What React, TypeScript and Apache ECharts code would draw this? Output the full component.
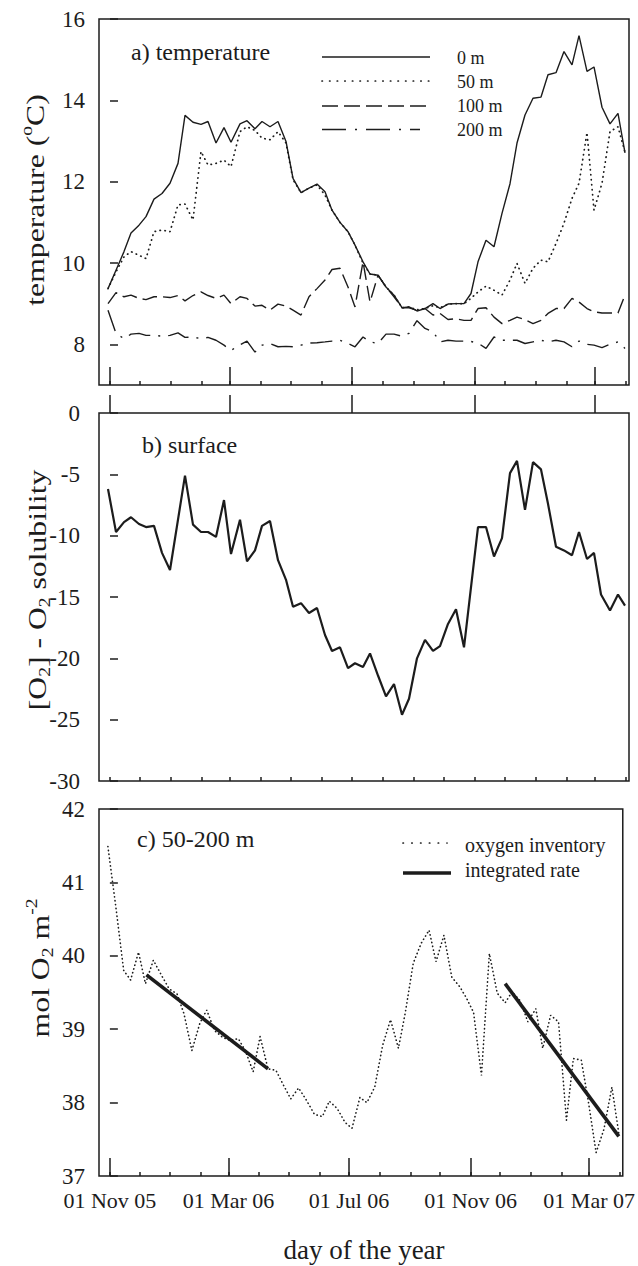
import React, { useEffect, useRef } from "react";
import * as echarts from "echarts";

// Sampling days, counted from 01 Nov 2005
const sampleDays = [
  -2, 6, 14, 21, 29, 36, 44, 52, 60, 68, 75, 83, 91, 98, 106, 114, 121, 130, 137, 145,
  152, 160, 168, 176, 183, 191, 199, 207, 215, 222, 230, 238, 245, 253, 260, 268, 276, 284, 292, 299,
  307, 315, 323, 330, 338, 346, 354, 361, 368, 376, 384, 392, 400, 407, 415, 423, 431, 438, 446, 454,
  462, 469, 477, 484, 492, 500, 508, 515,
];

// Temperature (°C) at four depths
const temp0m = [
  9.37, 9.82, 10.28, 10.74, 10.93, 11.14, 11.57, 11.71, 11.96, 12.45, 13.63, 13.46, 13.41, 13.48, 12.95, 13.33, 12.97, 13.42, 13.5, 13.3,
  13.48, 13.35, 13.48, 12.99, 12.08, 11.73, 11.84, 11.94, 11.75, 11.3, 11.0, 10.77, 10.44, 10.03, 9.73, 9.7, 9.41, 9.21, 8.9, 8.92,
  8.82, 8.88, 9.0, 8.88, 8.99, 9.0, 9.0, 9.25, 10.03, 10.56, 10.4, 11.22, 11.95, 12.95, 13.64, 14.05, 14.08, 14.63, 14.68, 15.2,
  14.87, 15.59, 14.71, 14.82, 13.83, 13.42, 13.68, 12.71,
];
const temp50m = [
  9.37, 9.78, 10.15, 10.28, 10.19, 10.11, 10.77, 10.81, 10.77, 11.43, 11.45, 11.06, 12.74, 12.41, 12.45, 12.53, 12.37, 13.23, 13.35, 13.26,
  13.07, 13.03, 13.23, 12.95, 12.05, 11.73, 11.84, 11.92, 11.67, 11.3, 11.0, 10.77, 10.44, 10.0, 9.73, 9.7, 9.41, 9.21, 8.9, 8.92,
  8.85, 8.88, 8.95, 8.9, 8.99, 9.0, 9.0, 9.13, 9.29, 9.43, 9.33, 9.21, 9.58, 9.99, 9.5, 9.87, 10.07, 10.03, 10.48, 10.98,
  11.59, 11.96, 13.21, 11.3, 11.96, 13.23, 13.35, 12.72,
];
const temp100m = [
  9.0, 9.27, 9.17, 9.21, 9.13, 9.1, 9.17, 9.17, 9.15, 9.2, 9.07, 9.2, 9.29, 9.2, 9.13, 9.21, 9.0, 9.17, 9.13, 8.94,
  8.96, 8.84, 8.99, 8.94, 8.84, 8.72, 9.17, 9.37, 9.58, 9.84, 9.87, 9.41, 8.92, 10.03, 9.04, 9.7, 9.41, 9.17, 8.9, 8.9,
  8.84, 8.88, 8.72, 8.76, 8.61, 8.63, 8.59, 8.59, 8.88, 8.9, 8.67, 8.51, 8.59, 8.67, 8.61, 8.51, 8.59, 8.76, 8.88, 8.88,
  9.13, 9.04, 8.88, 8.8, 8.77, 8.77, 8.77, 9.21,
];
const temp200m = [
  8.84, 8.27, 8.14, 8.25, 8.27, 8.22, 8.22, 8.2, 8.22, 8.28, 8.17, 8.18, 8.14, 8.17, 8.1, 7.98, 7.85, 7.99, 8.08, 7.81,
  7.98, 8.02, 7.94, 7.95, 7.94, 7.98, 8.03, 8.04, 8.06, 8.08, 8.1, 8.02, 7.94, 8.18, 8.06, 8.02, 8.25, 8.25, 8.2, 8.27,
  8.58, 8.39, 8.31, 8.06, 8.1, 8.08, 8.08, 8.07, 8.03, 7.9, 8.18, 8.1, 8.1, 8.1, 8.02, 8.06, 8.1, 8.06, 8.1, 8.06,
  7.94, 8.08, 8.0, 7.98, 7.92, 8.0, 8.06, 7.9,
];

// Surface [O2] minus O2 solubility
const surfaceDays = [
  -2, 6, 14, 21, 29, 36, 44, 52, 60, 75, 83, 91, 98, 106, 114, 121, 130, 137, 145, 152,
  160, 168, 176, 183, 191, 199, 207, 215, 222, 230, 238, 245, 253, 260, 268, 276, 284, 292, 299, 307,
  315, 323, 330, 338, 346, 354, 368, 376, 384, 392, 400, 407, 415, 423, 431, 438, 446, 454, 462, 469,
  477, 484, 491, 500, 508, 515,
];
const surfaceO2 = [
  -6.2, -9.7, -8.9, -8.5, -9.05, -9.3, -9.2, -11.4, -12.8, -5.1, -9.1, -9.7, -9.7, -10.1, -7.1, -11.5, -8.7, -12.1, -11.2, -9.2,
  -8.8, -12.0, -13.6, -15.8, -15.5, -16.3, -15.9, -18.1, -19.4, -19.1, -20.8, -20.4, -20.7, -19.6, -21.4, -23.1, -22.1, -24.6, -23.3, -20.0,
  -18.5, -19.4, -19.0, -17.2, -16.0, -19.1, -9.3, -9.3, -11.7, -10.2, -4.9, -3.9, -7.9, -4.0, -4.6, -7.4, -10.9, -11.2, -11.6, -9.7,
  -11.9, -11.4, -14.8, -16.1, -14.8, -15.7,
];

// 50-200 m oxygen inventory (mol O2 m-2)
const oxygenInventory = [
  41.49, 40.67, 39.8, 39.67, 40.05, 39.62, 39.94, 39.74, 39.55, 39.48, 39.21, 38.71, 39.08, 39.26, 38.98, 38.89, 38.85, 38.87, 38.71, 38.42,
  38.9, 38.46, 38.44, 38.23, 38.05, 38.2, 38.03, 37.84, 37.81, 38.02, 37.92, 37.73, 37.65, 38.07, 38.0, 38.21, 38.78, 39.13, 38.74, 39.23,
  39.9, 40.17, 40.35, 39.92, 40.28, 39.71, 39.58, 39.42, 39.23, 38.37, 40.03, 39.49, 39.36, 39.51, 39.39, 39.1, 39.28, 38.74, 39.19, 39.1,
  37.76, 38.6, 38.58, 38.03, 37.32, 37.64, 38.21, 37.58,
];

// Integrated consumption rate, two periods
const rateDaysA = [37, 160];
const rateA = [39.74, 38.46];
const rateDaysB = [400, 515];
const rateB = [39.62, 37.54];

// Axis ticks
const majorTickDays = [0, 120, 242, 365, 485];
const majorTickLabels = ["01 Nov 05", "01 Mar 06", "01 Jul 06", "01 Nov 06", "01 Mar 07"];
const monthStartDays = [0, 30, 61, 92, 120, 151, 181, 212, 242, 273, 304, 334, 365, 395, 426, 457, 485, 516];
const tempTicks = [8, 10, 12, 14, 16];

const INK = "#1c1c1c";
const SERIF = "'Liberation Serif', 'Times New Roman', serif";
const X_MIN = -11;
const X_MAX = 519;

const pairs = (xs: number[], ys: number[]) => xs.map((x, i) => [x, ys[i]]);

function xAxisMajor(gridIndex: number, labels: boolean) {
  return {
    type: "value",
    gridIndex,
    min: X_MIN,
    max: X_MAX,
    position: "bottom",
    axisLine: { show: false },
    splitLine: { show: false },
    axisTick: {
      show: true,
      inside: true,
      length: 18,
      customValues: majorTickDays,
      lineStyle: { color: INK, width: 1.5 },
    },
    axisLabel: {
      show: labels,
      customValues: majorTickDays,
      margin: 13,
      fontSize: 22,
      fontFamily: SERIF,
      color: INK,
      formatter: (v: number) => {
        const i = majorTickDays.findIndex((d) => Math.abs(d - v) < 0.5);
        return i >= 0 ? majorTickLabels[i] : "";
      },
    },
  };
}

function xAxisMinor(gridIndex: number) {
  return {
    type: "value",
    gridIndex,
    min: X_MIN,
    max: X_MAX,
    position: "bottom",
    axisLine: { show: false },
    splitLine: { show: false },
    axisLabel: { show: false },
    axisTick: {
      show: true,
      inside: true,
      length: 4,
      customValues: monthStartDays,
      lineStyle: { color: INK, width: 1.5 },
    },
  };
}

function yAxis(gridIndex: number, extra: any, labelMargin: number) {
  return {
    type: "value",
    gridIndex,
    axisLine: { show: false },
    splitLine: { show: false },
    ...extra,
    axisTick: {
      show: true,
      inside: true,
      length: 8,
      lineStyle: { color: INK, width: 1.5 },
      ...(extra.ticks ? { customValues: extra.ticks } : {}),
    },
    axisLabel: {
      margin: labelMargin,
      fontSize: 23,
      fontFamily: SERIF,
      color: INK,
      ...(extra.ticks ? { customValues: extra.ticks } : {}),
    },
  };
}

const richBase = {
  n: { fontSize: 26, fontFamily: SERIF, color: INK, lineHeight: 32 },
  sup: { fontSize: 16, fontFamily: SERIF, color: INK, lineHeight: 14, verticalAlign: "top" },
  sub: { fontSize: 16, fontFamily: SERIF, color: INK, lineHeight: 14, verticalAlign: "bottom" },
};

function axisTitle(x: number, y: number, text: string) {
  return {
    type: "text",
    x,
    y,
    rotation: Math.PI / 2,
    scaleX: 1.22,
    style: {
      text,
      rich: richBase,
      align: "center",
      verticalAlign: "middle",
      fill: INK,
    },
  };
}

function label(x: number, y: number, text: string, size: number, align = "left") {
  return {
    type: "text",
    x,
    y,
    style: {
      text,
      fontSize: size,
      fontFamily: SERIF,
      fill: INK,
      align,
      verticalAlign: "middle",
    },
  };
}

function legendLine(x1: number, x2: number, y: number, width: number, dash: any, cap = "butt") {
  return {
    type: "line",
    shape: { x1, y1: y, x2, y2: y },
    style: { stroke: INK, lineWidth: width, lineDash: dash, lineCap: cap },
  };
}

const DOTS = [0.4, 4.6];
const DASH = [15, 6];
const DASH_DOT = [22, 8, 2, 8];

export default function App() {
  const ref = useRef<HTMLDivElement>(null);

  useEffect(() => {
    if (!ref.current) return;
    const chart = echarts.init(ref.current, undefined, { renderer: "svg" });

    const grid = [
      { left: 99, top: 19, width: 530, height: 366 },
      { left: 99, top: 413, width: 530, height: 368 },
      { left: 99, top: 809, width: 530, height: 367 },
    ].map((g) => ({ ...g, show: true, borderColor: INK, borderWidth: 1.5, backgroundColor: "transparent" }));

    const line = (name: string, xi: number, yi: number, data: any, width: number, type: any, z = 2, cap = "butt") => ({
      name,
      type: "line",
      xAxisIndex: xi,
      yAxisIndex: yi,
      data,
      symbol: "none",
      z,
      lineStyle: { color: INK, width, type, cap },
    });

    chart.setOption({
      animation: false,
      backgroundColor: "#ffffff",
      grid,
      xAxis: [
        xAxisMajor(0, false),
        xAxisMinor(0),
        xAxisMajor(1, false),
        xAxisMinor(1),
        xAxisMajor(2, true),
        xAxisMinor(2),
      ],
      yAxis: [
        yAxis(0, { min: 7, max: 16, ticks: tempTicks }, 14),
        yAxis(1, { min: -30, max: 0, interval: 5 }, 19),
        yAxis(2, { min: 37, max: 42, interval: 1 }, 14),
      ],
      series: [
        line("200 m", 0, 0, pairs(sampleDays, temp200m), 1.4, DASH_DOT),
        line("100 m", 0, 0, pairs(sampleDays, temp100m), 1.4, DASH),
        line("50 m", 0, 0, pairs(sampleDays, temp50m), 1.7, DOTS, 2, "round"),
        line("0 m", 0, 0, pairs(sampleDays, temp0m), 1.4, "solid", 3),
        line("surface", 2, 1, pairs(surfaceDays, surfaceO2), 2.2, "solid"),
        line("oxygen inventory", 4, 2, pairs(sampleDays, oxygenInventory), 1.6, [0.3, 3.6], 2, "round"),
        line("integrated rate", 4, 2, pairs(rateDaysA, rateA), 3.6, "solid", 3),
        line("integrated rate ", 4, 2, pairs(rateDaysB, rateB), 3.6, "solid", 3),
      ],
      graphic: [
        label(131, 52, "a) temperature", 24),
        label(142, 445, "b) surface", 24),
        label(137, 839, "c) 50-200 m", 24),

        legendLine(322, 430, 57, 1.3, null),
        legendLine(322, 430, 81, 1.7, [0.4, 7.2], "round"),
        legendLine(322, 430, 106, 1.3, [16, 6]),
        legendLine(322, 420, 129.5, 1.3, [24, 9, 2, 9]),
        label(457, 57.5, "0 m", 18),
        label(457, 82, "50 m", 18),
        label(457, 106, "100 m", 18),
        label(457, 130, "200 m", 18),

        legendLine(403, 447, 843, 1.7, [0.4, 8.4], "round"),
        legendLine(403, 451, 873, 3.6, null),
        label(465, 845, "oxygen inventory", 20),
        label(465, 870, "integrated rate", 20),

        axisTitle(35, 200, "{n|temperature (}{sup|o}{n|C)}"),
        axisTitle(37, 590, "{n|[O}{sub|2}{n|] - O}{sub|2}{n| solubility}"),
        axisTitle(40, 968, "{n|mol O}{sub|2}{n| m}{sup|-2}"),

        label(364, 1250, "day of the year", 27, "center"),
      ],
    });

    return () => chart.dispose();
  }, []);

  return (
    <div
      ref={ref}
      style={{ position: "fixed", left: 0, top: 0, width: 638, height: 1266, background: "#fff" }}
    />
  );
}
